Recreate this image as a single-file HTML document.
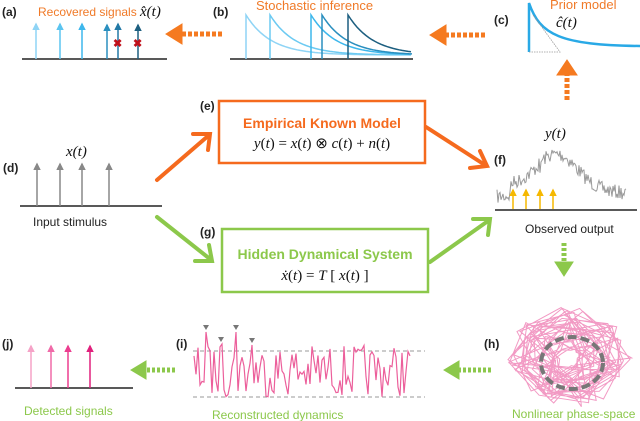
<!DOCTYPE html>
<html><head><meta charset="utf-8"><style>
html,body{margin:0;padding:0;background:#fff;}
svg{display:block;font-family:"Liberation Sans",sans-serif;}
.lb{font-weight:bold;font-size:12px;fill:#222;}
.m{font-family:"Liberation Serif",serif;font-style:italic;font-size:15px;fill:#111;}
</style></head><body>
<svg id="s" width="640" height="421" viewBox="0 0 640 421" xmlns="http://www.w3.org/2000/svg">
<defs>
<marker id="ah" viewBox="0 0 10 10" refX="8" refY="5" markerWidth="5" markerHeight="5" orient="auto"><path d="M0,0L10,5L0,10z" fill="context-stroke"/></marker>
</defs>
<text class="lb" x="2" y="16">(a)</text>
<text class="lb" x="213" y="16">(b)</text>
<text class="lb" x="494" y="24">(c)</text>
<text class="lb" x="3" y="172">(d)</text>
<text class="lb" x="200" y="110">(e)</text>
<text class="lb" x="494" y="164">(f)</text>
<text class="lb" x="200" y="236">(g)</text>
<text class="lb" x="484" y="348">(h)</text>
<text class="lb" x="176" y="348">(i)</text>
<text class="lb" x="2" y="348">(j)</text>

<!-- (a) -->
<text x="38" y="16" font-size="12" fill="#f07a28">Recovered signals</text>
<text class="m" x="140" y="16" font-size="14">x̂(t)</text>
<line x1="22" y1="59" x2="167" y2="59" stroke="#222" stroke-width="1.5"/>
<g stroke-width="1.5">
<line x1="36" y1="59" x2="36" y2="24" stroke="#8fd4f5" marker-end="url(#ah)"/>
<line x1="60" y1="59" x2="60" y2="24" stroke="#5bc4f0" marker-end="url(#ah)"/>
<line x1="82" y1="59" x2="82" y2="24" stroke="#3db7ec" marker-end="url(#ah)"/>
<line x1="107" y1="59" x2="107" y2="25" stroke="#2a8fbf" marker-end="url(#ah)"/>
<line x1="118" y1="59" x2="118" y2="24" stroke="#2279a6" marker-end="url(#ah)"/>
<line x1="138" y1="59" x2="138" y2="25" stroke="#1d5f80" marker-end="url(#ah)"/>
</g>
<text x="113" y="47" font-size="11" fill="#c0101a" font-weight="bold">✖</text>
<text x="133" y="47" font-size="11" fill="#c0101a" font-weight="bold">✖</text>
<g stroke="#f57a20" fill="#f57a20">
<line x1="222" y1="34" x2="180" y2="34" stroke-width="5" stroke-dasharray="4,2"/>
<path d="M166,34 L182,24 L182,44z"/>
<line x1="485" y1="35" x2="444" y2="35" stroke-width="5" stroke-dasharray="4,2"/>
<path d="M430,35 L446,25 L446,45z"/>
<line x1="567" y1="100" x2="567" y2="73" stroke-width="5" stroke-dasharray="4,2"/>
<path d="M567,60 L557,75 L577,75z"/>
</g>
<!-- (b) -->
<text x="256" y="10" font-size="13" fill="#f07a28">Stochastic inference</text>
<line x1="230" y1="59" x2="413" y2="59" stroke="#222" stroke-width="1.5"/>
<g id="decays" fill="none" stroke-width="1.5"></g>
<!-- (c) -->
<text x="550" y="9" font-size="13" fill="#f07a28">Prior model</text>
<text class="m" x="556" y="27" font-size="14">ĉ(t)</text>
<path d="M529,52 L529,3 C540,35 560,45 640,46" fill="none" stroke="#29a9e6" stroke-width="2.5"/>
<path d="M529,52 L560,52 L533,15" fill="none" stroke="#999" stroke-width="0.8" stroke-dasharray="1.5,1"/>

<!-- (d) -->
<text class="m" x="66" y="156">x(t)</text>
<line x1="20" y1="206" x2="162" y2="206" stroke="#222" stroke-width="1.5"/>
<g stroke="#888" stroke-width="1.5">
<line x1="37" y1="206" x2="37" y2="164" marker-end="url(#ah)"/>
<line x1="60" y1="206" x2="60" y2="164" marker-end="url(#ah)"/>
<line x1="82" y1="206" x2="82" y2="164" marker-end="url(#ah)"/>
<line x1="109" y1="206" x2="109" y2="164" marker-end="url(#ah)"/>
</g>
<text x="33" y="226" font-size="12" fill="#222">Input stimulus</text>

<g stroke="#f56a1e" stroke-width="4" fill="none" stroke-linecap="round">
<line x1="157" y1="180" x2="208" y2="136"/><path d="M193,134 L210,134 L208,150" />
<line x1="426" y1="127" x2="485" y2="165"/><path d="M470,168 L487,166 L480,151"/>
</g>
<g stroke="#8cc84b" stroke-width="4" fill="none" stroke-linecap="round">
<line x1="157" y1="217" x2="210" y2="259"/><path d="M195,261 L212,261 L209,245"/>
<line x1="430" y1="262" x2="488" y2="221"/><path d="M473,219 L490,219 L488,235"/>
</g>

<rect x="219" y="101" width="206" height="62" fill="none" stroke="#f56a1e" stroke-width="2.5"/>
<text x="322" y="128" text-anchor="middle" font-size="14" font-weight="bold" fill="#f56a1e">Empirical Known Model</text>
<text x="322" y="148" text-anchor="middle" font-family="Liberation Serif,serif" font-size="15" fill="#111"><tspan font-style="italic">y</tspan>(<tspan font-style="italic">t</tspan>) = <tspan font-style="italic">x</tspan>(<tspan font-style="italic">t</tspan>) ⊗ <tspan font-style="italic">c</tspan>(<tspan font-style="italic">t</tspan>) + <tspan font-style="italic">n</tspan>(<tspan font-style="italic">t</tspan>)</text>
<rect x="222" y="229" width="206" height="63" fill="none" stroke="#8cc84b" stroke-width="2.5"/>
<text x="325" y="259" text-anchor="middle" font-size="14" font-weight="bold" fill="#8cc84b">Hidden Dynamical System</text>
<text x="325" y="280" text-anchor="middle" font-family="Liberation Serif,serif" font-size="15" fill="#111"><tspan font-style="italic">ẋ</tspan>(<tspan font-style="italic">t</tspan>) = <tspan font-style="italic">T</tspan> [ <tspan font-style="italic">x</tspan>(<tspan font-style="italic">t</tspan>) ]</text>

<!-- (f) -->
<text class="m" x="545" y="138" font-size="13">y(t)</text>
<polyline id="fsig" fill="none" stroke="#999" stroke-width="1"/>
<line x1="495" y1="210" x2="637" y2="210" stroke="#222" stroke-width="1.5"/>
<g stroke="#f5b800" stroke-width="1.5">
<line x1="513" y1="209" x2="513" y2="190" marker-end="url(#ah)"/>
<line x1="526" y1="209" x2="526" y2="190" marker-end="url(#ah)"/>
<line x1="540" y1="209" x2="540" y2="190" marker-end="url(#ah)"/>
<line x1="553" y1="209" x2="553" y2="190" marker-end="url(#ah)"/>
</g>
<text x="525" y="233" font-size="12" fill="#222">Observed output</text>

<g stroke="#8cc84b" fill="#8cc84b">
<line x1="564" y1="243" x2="564" y2="262" stroke-width="5" stroke-dasharray="3,2"/>
<path d="M564,276 L555,262 L573,262z"/>
<line x1="491" y1="370" x2="458" y2="370" stroke-width="5" stroke-dasharray="3,2"/>
<path d="M444,370 L459,361 L459,379z"/>
<line x1="175" y1="370" x2="145" y2="370" stroke-width="5" stroke-dasharray="3,2"/>
<path d="M131,370 L146,361 L146,379z"/>
</g>

<!-- (h) -->
<polyline id="hsig" fill="none" stroke="#f29ac4" stroke-width="1"/>
<ellipse cx="572" cy="363" rx="31" ry="26" fill="none" stroke="#777" stroke-width="4" stroke-dasharray="9,4"/>
<text x="512" y="418" font-size="12" fill="#8cc84b">Nonlinear  phase-space</text>

<!-- (i) -->
<line x1="193" y1="351" x2="425" y2="351" stroke="#999" stroke-dasharray="4,3"/>
<line x1="193" y1="397" x2="425" y2="397" stroke="#999" stroke-dasharray="4,3"/>
<polyline id="isig" fill="none" stroke="#ec5f9b" stroke-width="1.2"/>
<g fill="#777">
<path d="M203,325 L209,325 L206,330z"/>
<path d="M218,337 L224,337 L221,342z"/>
<path d="M233,325 L239,325 L236,330z"/>
<path d="M249,338 L255,338 L252,343z"/>
</g>
<text x="212" y="419" font-size="12" fill="#8cc84b">Reconstructed dynamics</text>

<!-- (j) -->
<line x1="15" y1="388" x2="133" y2="388" stroke="#222" stroke-width="1.5"/>
<g stroke-width="1.5">
<line x1="31" y1="388" x2="31" y2="346" stroke="#f5a3c7" marker-end="url(#ah)"/>
<line x1="51" y1="388" x2="51" y2="346" stroke="#f06aa8" marker-end="url(#ah)"/>
<line x1="68" y1="388" x2="68" y2="346" stroke="#ec3d8f" marker-end="url(#ah)"/>
<line x1="90" y1="388" x2="90" y2="346" stroke="#e0207c" marker-end="url(#ah)"/>
</g>
<text x="24" y="415" font-size="12" fill="#8cc84b">Detected signals</text>
</svg>
<script>
var seed=7;function r(){seed=(seed*16807)%2147483647;return seed/2147483647;}
var NS="http://www.w3.org/2000/svg";
var g=document.getElementById('decays');
var st=[[246,'#8fd4f5'],[270,'#6ccaf2'],[311,'#3db7ec'],[322,'#2a8fbf'],[348,'#1d5f80']];
st.forEach(function(s){var x0=s[0],d='M'+x0+',59 L'+x0+',15';for(var x=x0;x<=412;x+=3){var y=15+40*(1-Math.exp(-(x-x0)/25));d+=' L'+x+','+y.toFixed(1);}
var p=document.createElementNS(NS,'path');p.setAttribute('d',d);p.setAttribute('stroke',s[1]);g.appendChild(p);});
var pts=[];for(var x=497;x<=626;x+=1){var base=197-32*Math.exp(-Math.pow((x-558)/28,2))-14*(x>540?Math.exp(-(x-540)/70):0)-(x>510&&x<540?12:0);pts.push(x+','+Math.min(205,base+(r()-0.5)*14).toFixed(1));}
document.getElementById('fsig').setAttribute('points',pts.join(' '));
pts=[];var peaks={206:330,222:342,236:330,252:343};
for(var x=194;x<=411;x+=2){var y=345+r()*52;if(peaks[x])y=peaks[x]+2;pts.push(x+','+y.toFixed(1));}
document.getElementById('isig').setAttribute('points',pts.join(' '));
pts=[];for(var i=0;i<220;i++){var a=i*0.9,rad=8+r()*52;pts.push((569+rad*1.05*Math.cos(a)).toFixed(1)+','+(357+rad*0.85*Math.sin(a)).toFixed(1));}
document.getElementById('hsig').setAttribute('points',pts.join(' '));
</script>
</body></html>
